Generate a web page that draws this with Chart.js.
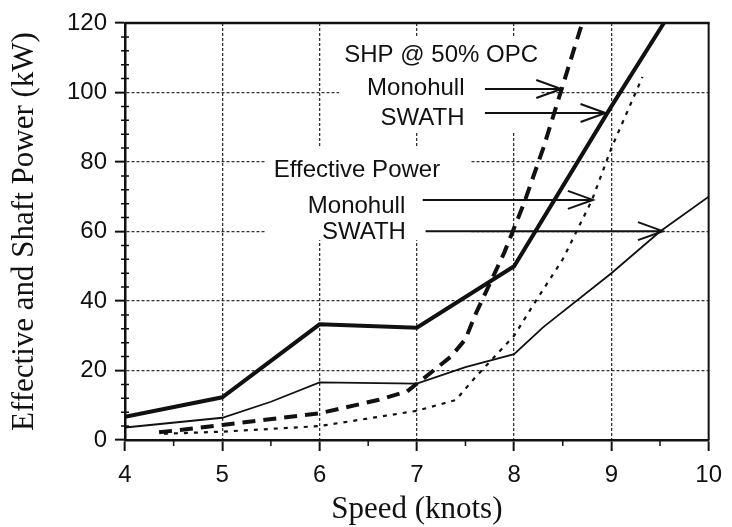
<!DOCTYPE html>
<html>
<head>
<meta charset="utf-8">
<title>Effective and Shaft Power</title>
<script src="https://cdn.jsdelivr.net/npm/chart.js@4.4.0/dist/chart.umd.min.js"></script>
<style>
  html, body { margin: 0; padding: 0; background: #fff; }
  #wrap { width: 732px; height: 527px; }
</style>
</head>
<body>
<div id="wrap"><canvas id="powerChart" width="732" height="527"></canvas></div>
<script>
// shaft power at 50% OPC (kW) vs speed (knots)
const shpMonoSpeed  = [4.35, 5, 6, 6.6, 6.9, 7.15, 7.35, 7.5, 7.6, 7.75, 7.9, 8.1, 8.3, 8.5, 8.7];
const shpMonoPower  = [2.2, 4.3, 7.7, 11.5, 14, 19.5, 24, 29, 36, 45, 54, 68, 84, 102, 120];
const shpSwathSpeed = [4, 5, 6, 7, 8, 9, 9.54];
const shpSwathPower = [6.7, 12.3, 33.3, 32.3, 50, 96, 120];

// effective power (kW) vs speed (knots)
const ehpMonoSpeed  = [4.4, 5, 6, 7, 7.4, 7.6, 7.8, 8, 8.2, 8.5, 8.8, 9, 9.32];
const ehpMonoPower  = [1.8, 2.4, 4, 8.4, 11.5, 18, 24, 30, 39, 52, 69, 84, 104.5];
const ehpSwathSpeed = [4, 5, 5.5, 6, 7, 7.5, 8, 8.3, 9, 9.5, 10];
const ehpSwathPower = [3.6, 6.4, 11, 16.6, 16.2, 21, 24.7, 32.5, 48, 60, 70];

// axes
const speedTicks = [4, 5, 6, 7, 8, 9, 10];
const powerTicks = [0, 20, 40, 60, 80, 100, 120];
const speedMinorStep = 0.5;
const powerMinorStep = 4;

// labels written on the plot (speed, power at the text baseline)
const noteText  = ['SHP @ 50% OPC', 'Monohull', 'SWATH', 'Effective Power', 'Monohull', 'SWATH'];
const noteSpeed = [7.25, 7.49, 7.49, 6.385, 6.38, 6.456];
const notePower = [108.8, 99.3, 90.6, 75.7, 65.3, 57.8];
const noteAlign = ['center', 'right', 'right', 'center', 'center', 'center'];

// arrows from the labels onto the curves
const arrowFromSpeed = [7.70, 7.70, 7.06, 7.09];
const arrowToSpeed   = [8.485, 8.94, 8.81, 9.53];
const arrowPower     = [101, 94.1, 69.1, 60.1];

// blank paper behind the two label blocks
const clearSpeed = [[6.2, 8.27], [5.44, 7.55]];
const clearPower = [[88.5, 116], [57.5, 84]];

const INK = '#111';
const SANS = '"Liberation Sans", Arial, Helvetica, sans-serif';
const SERIF = '"Liberation Serif", "Times New Roman", serif';

function pairs(xs, ys){ return xs.map((v, i) => ({ x: v, y: ys[i] })); }

const paperMarks = {
  id: 'paperMarks',
  beforeDatasetsDraw(chart){
    const { ctx, scales: { x, y } } = chart;
    ctx.save();
    ctx.fillStyle = '#fff';
    clearSpeed.forEach((sp, i) => {
      const x0 = x.getPixelForValue(sp[0]), x1 = x.getPixelForValue(sp[1]);
      const y0 = y.getPixelForValue(clearPower[i][1]), y1 = y.getPixelForValue(clearPower[i][0]);
      ctx.fillRect(x0, y0, x1 - x0, y1 - y0);
    });
    ctx.restore();
  },
  afterDatasetsDraw(chart){
    const { ctx, chartArea: a, scales: { x, y } } = chart;
    ctx.save();
    ctx.strokeStyle = INK;
    ctx.fillStyle = INK;
    ctx.lineCap = 'butt';

    // top and right edges of the frame
    ctx.lineWidth = 2.5;
    ctx.beginPath(); ctx.moveTo(a.left, a.top); ctx.lineTo(a.right + 1, a.top); ctx.stroke();
    ctx.lineWidth = 2;
    ctx.beginPath(); ctx.moveTo(a.right, a.top); ctx.lineTo(a.right, a.bottom); ctx.stroke();

    // minor ticks
    ctx.lineWidth = 1.5;
    ctx.beginPath();
    for (let v = powerMinorStep; v < 120; v += powerMinorStep){
      if (v % 20 === 0) continue;
      const py = y.getPixelForValue(v);
      ctx.moveTo(a.left - 4, py); ctx.lineTo(a.left + 4, py);
    }
    for (let s = 4 + speedMinorStep; s < 10; s += 1){
      const px = x.getPixelForValue(s);
      ctx.moveTo(px, a.bottom); ctx.lineTo(px, a.bottom + 6);
    }
    ctx.stroke();

    // arrows
    ctx.lineWidth = 2;
    arrowPower.forEach((p, i) => {
      const py = y.getPixelForValue(p);
      const x0 = x.getPixelForValue(arrowFromSpeed[i]);
      const x1 = x.getPixelForValue(arrowToSpeed[i]);
      ctx.beginPath();
      ctx.moveTo(x0, py); ctx.lineTo(x1, py);
      ctx.moveTo(x1 - 25, py - 9); ctx.lineTo(x1, py); ctx.lineTo(x1 - 25, py + 9);
      ctx.stroke();
    });

    // labels
    ctx.font = '24px ' + SANS;
    ctx.textBaseline = 'alphabetic';
    noteText.forEach((t, i) => {
      ctx.textAlign = noteAlign[i];
      ctx.fillText(t, x.getPixelForValue(noteSpeed[i]), y.getPixelForValue(notePower[i]));
    });
    ctx.restore();
  }
};

const tickFont = { family: SANS, size: 24 };
const titleFont = { family: SERIF, size: 31, lineHeight: 1.1 };

new Chart(document.getElementById('powerChart'), {
  type: 'line',
  data: {
    datasets: [
      { label: 'SHP Monohull', data: pairs(shpMonoSpeed, shpMonoPower),
        borderColor: INK, borderWidth: 4, borderDash: [13, 8] },
      { label: 'SHP SWATH', data: pairs(shpSwathSpeed, shpSwathPower),
        borderColor: INK, borderWidth: 4 },
      { label: 'EHP Monohull', data: pairs(ehpMonoSpeed, ehpMonoPower),
        borderColor: INK, borderWidth: 2.2, borderDash: [4, 6] },
      { label: 'EHP SWATH', data: pairs(ehpSwathSpeed, ehpSwathPower),
        borderColor: INK, borderWidth: 1.8 }
    ]
  },
  options: {
    responsive: false,
    animation: false,
    layout: { padding: { top: 23, right: 17, left: 0, bottom: 0 } },
    plugins: { legend: { display: false }, tooltip: { enabled: false } },
    elements: { point: { radius: 0 }, line: { tension: 0, fill: false, borderCapStyle: 'butt' } },
    scales: {
      x: {
        type: 'linear', min: 4, max: 10,
        afterBuildTicks: s => { s.ticks = speedTicks.map(v => ({ value: v })); },
        afterFit: s => { s.height = 87; },
        ticks: { font: tickFont, color: INK, padding: 10, maxRotation: 0 },
        grid: {
          color: c => (c.tick && (c.tick.value === 4 || c.tick.value === 10)) ? 'rgba(0,0,0,0)' : '#333',
          lineWidth: 1.3, drawTicks: true, tickLength: 11, tickColor: INK, tickWidth: 2, tickBorderDash: []
        },
        border: { display: true, color: INK, width: 2.5, dash: [3, 2] },
        title: { display: true, text: 'Speed (knots)', font: titleFont, color: INK, padding: { top: 0, bottom: 0 } }
      },
      y: {
        type: 'linear', min: 0, max: 120,
        afterBuildTicks: s => { s.ticks = powerTicks.map(v => ({ value: v })); },
        afterFit: s => { s.width = 125; },
        ticks: { font: tickFont, color: INK, padding: 8 },
        grid: {
          color: c => (c.tick && (c.tick.value === 0 || c.tick.value === 120)) ? 'rgba(0,0,0,0)' : '#333',
          lineWidth: 1.3, drawTicks: true, tickLength: 10, tickColor: INK, tickWidth: 2, tickBorderDash: []
        },
        border: { display: true, color: INK, width: 2.5, dash: [3, 2] },
        title: { display: true, text: 'Effective and Shaft Power (kW)', font: titleFont, color: INK, padding: { top: 8, bottom: 0 } }
      }
    }
  },
  plugins: [paperMarks]
});
</script>
</body>
</html>
